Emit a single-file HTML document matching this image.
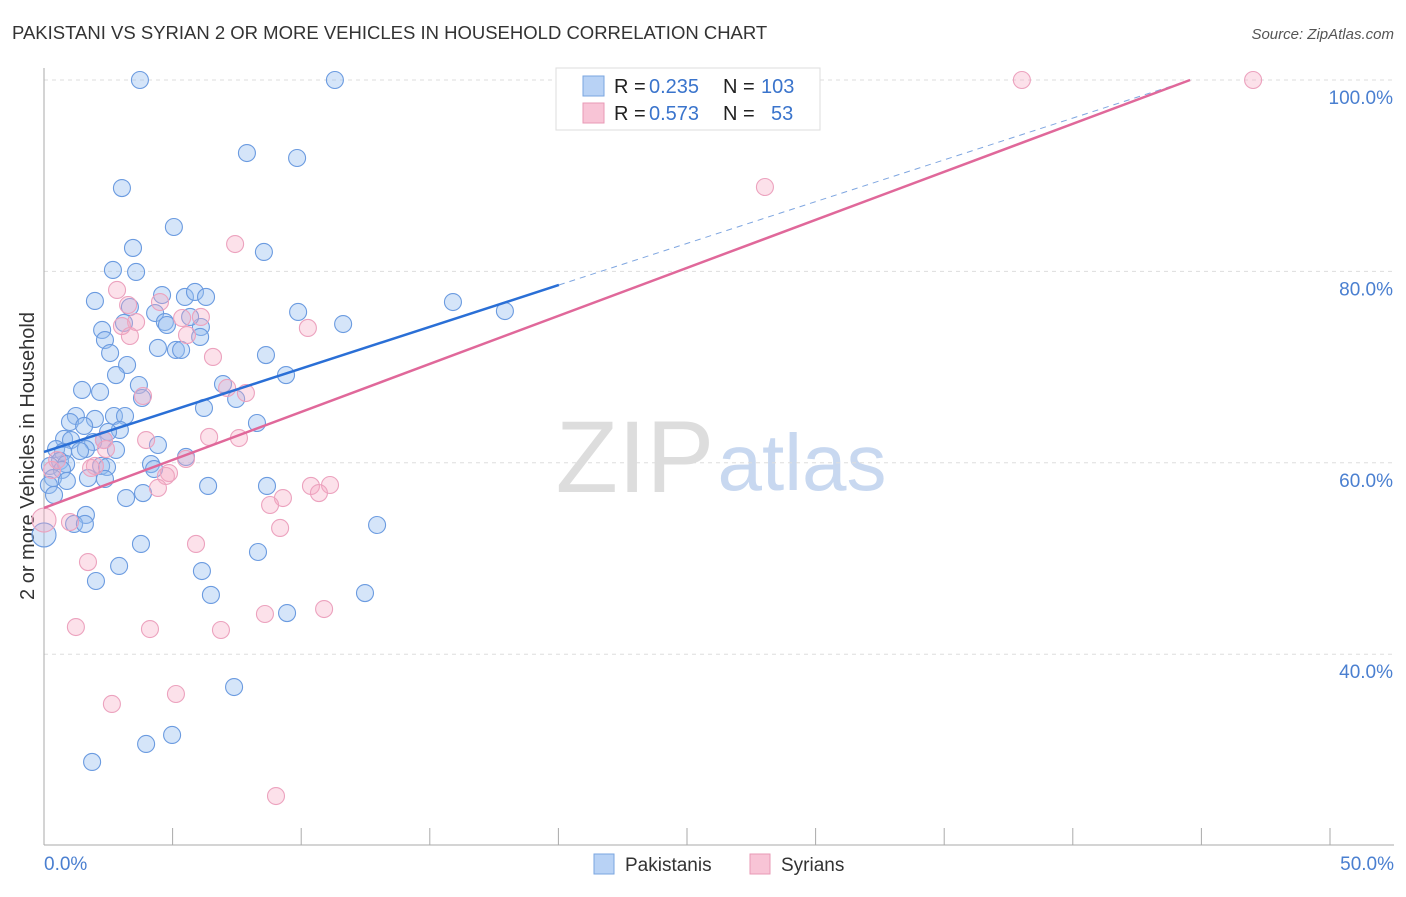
<!DOCTYPE html>
<html><head><meta charset="utf-8"><style>
body{margin:0;background:#fff;font-family:"Liberation Sans",sans-serif}
svg text{font-family:"Liberation Sans",sans-serif}
</style></head><body>
<svg width="1406" height="892" xmlns="http://www.w3.org/2000/svg" id="chart">
<text x="12" y="39" font-size="18.5" fill="#333">PAKISTANI VS SYRIAN 2 OR MORE VEHICLES IN HOUSEHOLD CORRELATION CHART</text>
<text x="1394" y="39" font-size="15" fill="#555" text-anchor="end" font-style="italic">Source: ZipAtlas.com</text>
<text transform="translate(34,456) rotate(-90)" font-size="20" fill="#333" text-anchor="middle">2 or more Vehicles in Household</text>
<g><text x="635" y="492" font-size="102" fill="#ddd" font-family="Liberation Serif" text-anchor="middle">ZIP</text><text x="802" y="490" font-size="80" fill="#c8d8f0" text-anchor="middle">atlas</text></g>
<g id="grid"></g><g id="axes"></g><g id="pts"></g><g id="lines"></g>
<g>
<rect x="556" y="68" width="264" height="62" fill="#fff" stroke="#ddd"/>
<rect x="583" y="76" width="21" height="20" fill="#b8d2f5" stroke="#7aa6e0"/>
<rect x="583" y="103" width="21" height="20" fill="#f8c4d6" stroke="#e89ab6"/>
<text x="614" y="93" font-size="20" fill="#222">R =</text><text x="649" y="93" font-size="20" fill="#3a74cc">0.235</text>
<text x="723" y="93" font-size="20" fill="#222">N =</text><text x="761" y="93" font-size="20" fill="#3a74cc">103</text>
<text x="614" y="120" font-size="20" fill="#222">R =</text><text x="649" y="120" font-size="20" fill="#3a74cc">0.573</text>
<text x="723" y="120" font-size="20" fill="#222">N =</text><text x="771" y="120" font-size="20" fill="#3a74cc">53</text>
</g>
<g>
<rect x="594" y="854" width="20" height="20" fill="#b8d2f5" stroke="#7aa6e0"/>
<text x="625" y="871" font-size="19" fill="#333">Pakistanis</text>
<rect x="750" y="854" width="20" height="20" fill="#f8c4d6" stroke="#e89ab6"/>
<text x="781" y="871" font-size="19" fill="#333">Syrians</text>
</g>
</svg>
<script>
const yTicks=[40,60,80,100];
const yTickLabels=["40.0%","60.0%","80.0%","100.0%"];
const xTickLabels=["0.0%","50.0%"];
const pakX=[3.73,11.31,7.89,9.84,3.03,5.05,3.46,8.55,2.68,3.58,1.98,4.59,5.48,5.87,6.30,9.88,11.63,15.90,17.92,4.32,4.70,4.78,6.10,2.26,3.34,3.11,2.37,5.68,6.07,4.43,5.13,5.33,2.57,8.63,3.23,2.80,9.41,1.48,3.69,2.18,6.96,3.81,7.47,6.22,1.24,1.98,2.72,3.15,1.01,1.56,8.28,2.95,2.49,0.78,1.05,1.91,2.33,1.63,0.47,0.74,1.40,4.43,2.80,5.52,0.62,0.23,0.86,2.22,2.45,4.16,4.28,0.70,1.71,2.37,0.35,0.89,0.19,6.38,8.67,0.39,3.19,3.85,1.63,1.17,1.59,12.95,0,3.77,8.32,2.92,6.14,2.02,6.49,12.48,9.45,7.39,4.98,3.97,1.87];
const pakY=[100,100,92.37,91.85,88.71,84.64,82.45,82.03,80.15,79.94,76.91,77.53,77.33,77.85,77.33,75.76,74.50,76.80,75.86,75.65,74.71,74.40,74.19,73.88,76.28,74.61,72.83,75.24,73.15,72.00,71.79,71.79,71.47,71.26,70.22,69.17,69.17,67.61,68.13,67.40,68.23,66.77,66.67,65.73,64.89,64.58,64.89,64.89,64.26,63.85,64.16,63.43,63.22,62.49,62.38,62.17,62.38,61.44,61.44,61.13,61.23,61.86,61.34,60.61,60.19,59.67,59.87,59.67,59.56,59.87,59.35,59.25,58.41,58.31,58.41,58.10,57.68,57.58,57.58,56.64,56.32,56.84,54.55,53.61,53.61,53.50,52.46,51.52,50.68,49.22,48.69,47.65,46.19,46.39,44.30,36.57,31.56,30.62,28.74];
const syrX=[38.02,47.01,28.03,7.43,2.84,3.27,4.51,3.58,3.03,3.34,5.37,6.10,5.56,10.26,6.57,7.12,3.85,7.85,3.97,6.42,7.58,2.33,2.41,5.52,1.98,1.83,4.86,4.74,4.43,10.38,11.12,10.69,9.29,8.79,9.18,1.01,0,1.71,5.91,1.24,4.12,6.88,8.59,10.89,5.13,2.64,9.02,0.31,0.51];
const syrY=[100,100,88.82,82.86,78.06,76.49,76.80,74.71,74.29,73.25,75.13,75.24,73.35,74.09,71.06,67.82,66.98,67.29,62.38,62.70,62.59,62.38,61.44,60.40,59.67,59.46,58.93,58.62,57.37,57.58,57.68,56.84,56.32,55.59,53.19,53.81,54.02,49.63,51.52,42.84,42.63,42.53,44.20,44.72,35.84,34.80,25.18,59.25,60.29];
const pakTrend=[[0,61.13],[20.02,78.58],[44.56,100]];
const syrTrend=[[0,55.28],[44.56,100]];
const X=v=>44+v*25.72, Y=v=>80+(100-v)*9.57;
const NS="http://www.w3.org/2000/svg";
function mk(p,t,a){const e=document.createElementNS(NS,t);for(const k in a)e.setAttribute(k,a[k]);document.getElementById(p).appendChild(e);return e;}
yTicks.forEach((t,i)=>{
 const g=mk('grid','line',{x1:44,x2:1394,y1:Y(t),y2:Y(t),stroke:'#ddd','stroke-dasharray':'4,4'});
 
 
 const l=mk('axes','text',{x:1393,y:Y(t)+24,'font-size':19,fill:'#4a7fd0','text-anchor':'end'});
 l.textContent=yTickLabels[i];
 
 
});
const ax=mk('axes','line',{x1:44,x2:44,y1:68,y2:845,stroke:'#aaa'});


const bx=mk('axes','line',{x1:44,x2:1394,y1:845,y2:845,stroke:'#aaa'});


for(let i=0;i<=10;i++){const t=mk('axes','line',{x1:X(i*5),x2:X(i*5),y1:828,y2:845,stroke:'#aaa'});
 
 }
[[0,'start',44],[50,'end',1394]].forEach((d,i)=>{const l=mk('axes','text',{x:d[2],y:870,'font-size':19,fill:'#4a7fd0','text-anchor':d[1]});l.textContent=xTickLabels[i];
 
 });
pakX.forEach((x,i)=>{const c=mk('pts','circle',{cx:X(x),cy:Y(pakY[i]),r:x===0?12:8.5,fill:'rgba(150,190,240,0.4)',stroke:'#6b9be0','stroke-width':1.1});
 
 });
syrX.forEach((x,i)=>{const c=mk('pts','circle',{cx:X(x),cy:Y(syrY[i]),r:x===0?12:8.5,fill:'rgba(245,170,195,0.35)',stroke:'#eca2be','stroke-width':1.1});
 
 });
const b1=mk('lines','line',{x1:X(pakTrend[0][0]),y1:Y(pakTrend[0][1]),x2:X(pakTrend[1][0]),y2:Y(pakTrend[1][1]),stroke:'#2a6fd6','stroke-width':2.5});


const b2=mk('lines','line',{x1:X(pakTrend[1][0]),y1:Y(pakTrend[1][1]),x2:X(pakTrend[2][0]),y2:Y(pakTrend[2][1]),stroke:'#7fa6e0','stroke-width':1,'stroke-dasharray':'6,5'});


const p1=mk('lines','line',{x1:X(syrTrend[0][0]),y1:Y(syrTrend[0][1]),x2:X(syrTrend[1][0]),y2:Y(syrTrend[1][1]),stroke:'#e0689a','stroke-width':2.5});


</script>
</body></html>
